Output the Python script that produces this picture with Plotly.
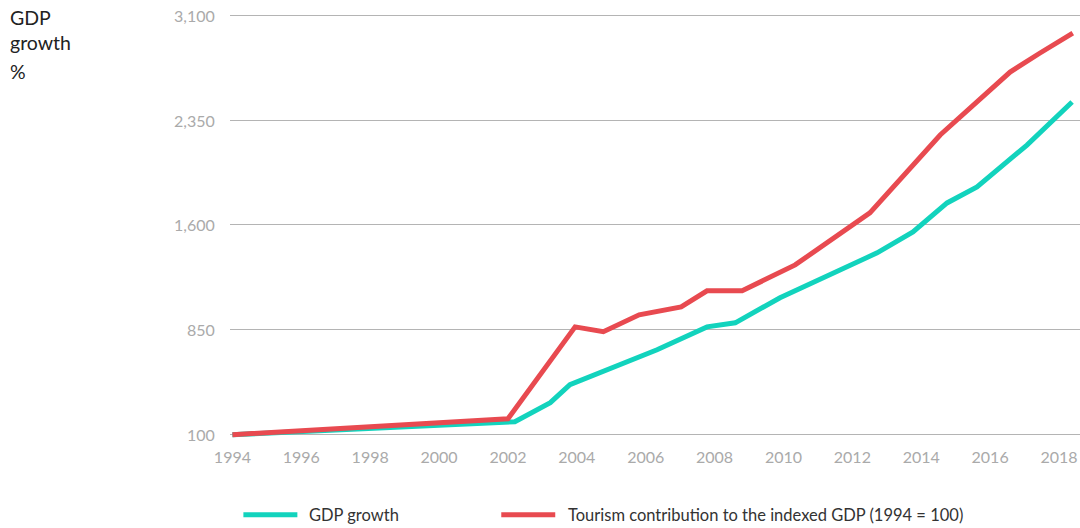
import plotly.graph_objects as go

# Data
gdp_years = [1994, 2002.2, 2003.23, 2003.8, 2006.33, 2007.78, 2008.6, 2009.9,
             2012.72, 2013.76, 2014.75, 2015.62, 2017.07, 2018.38]
gdp_values = [100, 193, 329, 457, 707, 871, 900, 1079,
              1400, 1550, 1757, 1871, 2171, 2479]

tour_years = [1994, 2002.0, 2003.95, 2004.77, 2005.81, 2007.03, 2007.78, 2008.8,
              2010.34, 2012.51, 2014.55, 2016.58, 2017.45, 2018.4]
tour_values = [100, 214, 871, 836, 957, 1014, 1129, 1129,
               1314, 1686, 2243, 2693, 2829, 2971]

x_ticks = [1994, 1996, 1998, 2000, 2002, 2004, 2006, 2008, 2010, 2012, 2014, 2016, 2018]
y_ticks = [100, 850, 1600, 2350, 3100]
y_tick_text = ["100", "850", "1,600", "2,350", "3,100"]

series_names = ["GDP growth", "Tourism contribution to the indexed GDP (1994 = 100)"]
GREEN = "#12d3bd"
RED = "#e84a50"
FONT = "Lato"

W, H = 1080, 528
L = 229.6
T = 12.9
B = 528 - 441.3
PW = W - L
PH = H - T - B

fig = go.Figure()
fig.add_trace(go.Scatter(x=gdp_years, y=gdp_values, mode="lines", name=series_names[0],
                         line=dict(color=GREEN, width=5), showlegend=False))
fig.add_trace(go.Scatter(x=tour_years, y=tour_values, mode="lines", name=series_names[1],
                         line=dict(color=RED, width=5), showlegend=False))

fig.update_layout(
    width=W, height=H,
    margin=dict(l=L, r=0, t=T, b=B, autoexpand=False),
    paper_bgcolor="white", plot_bgcolor="white",
    font=dict(family=FONT, size=16, color="#aaaaaa"),
    xaxis=dict(range=[1993.93, 2018.61], tickvals=x_ticks, showgrid=False,
               zeroline=False, showline=False, ticks="",
               tickfont=dict(family=FONT, size=16, color="#aaaaaa"),
               ticklabelstandoff=5, ticklabeloverflow="allow"),
    yaxis=dict(range=[55, 3115], tickvals=y_ticks, showticklabels=False,
               showgrid=True, gridcolor="#b4b4b4", gridwidth=1.3,
               zeroline=False, showline=False, ticks=""),
    showlegend=False,
)

# y tick labels placed via annotations at the tick values
for v, t in zip(y_ticks, y_tick_text):
    fig.add_annotation(text=t, xref="paper", yref="y", x=0, y=v,
                       xanchor="right", yanchor="middle", xshift=-13.5,
                       showarrow=False,
                       font=dict(family=FONT, size=16, color="#aaaaaa"))

def px_x(px):
    return (px - L) / PW

def px_y(py):
    return (H - B - py) / PH

# Axis title (top-left)
fig.add_annotation(text="GDP<br>growth", xref="paper", yref="paper",
                   x=px_x(7), y=px_y(4), xanchor="left", yanchor="top",
                   showarrow=False, align="left",
                   font=dict(family=FONT, size=19.5, color="#222222"))
fig.add_annotation(text="%", xref="paper", yref="paper",
                   x=px_x(7), y=px_y(58), xanchor="left", yanchor="top",
                   showarrow=False, align="left",
                   font=dict(family=FONT, size=19.5, color="#222222"))

# Manual legend (bottom)
legend_items = [(243, 297, 307, GREEN, series_names[0]),
                (501, 555, 566, RED, series_names[1])]
for x0, x1, tx, col, label in legend_items:
    fig.add_shape(type="line", xref="paper", yref="paper",
                  x0=px_x(x0), x1=px_x(x1), y0=px_y(515), y1=px_y(515),
                  line=dict(color=col, width=5))
    fig.add_annotation(text=label, xref="paper", yref="paper",
                       x=px_x(tx), y=px_y(515), xanchor="left", yanchor="middle",
                       showarrow=False,
                       font=dict(family=FONT, size=16.5, color="#333333"))

fig.write_html(
    "out.html",
    config={"displayModeBar": False},
    post_script="document.body.style.margin='0';document.body.style.overflow='hidden';"
                "document.documentElement.style.overflow='hidden';",
)
